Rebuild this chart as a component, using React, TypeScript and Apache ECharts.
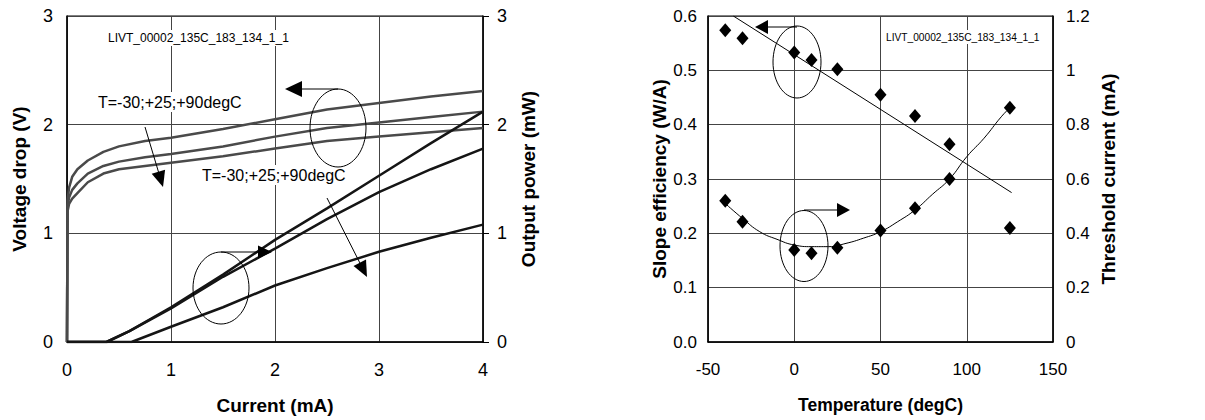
import React, { useEffect, useRef } from "react";
import * as echarts from "echarts";

// ---------- Left chart: LIV curves ----------
const voltageMinus30: number[][] = [[0,0],[0.005,1.3],[0.02,1.42],[0.05,1.52],[0.1,1.59],[0.2,1.67],[0.35,1.75],[0.5,1.8],[0.75,1.85],[1,1.88],[1.5,1.96],[2,2.05],[2.5,2.14],[3,2.2],[3.5,2.26],[4,2.31]];
const voltagePlus25: number[][] = [[0,0],[0.005,1.25],[0.02,1.33],[0.05,1.4],[0.1,1.46],[0.2,1.55],[0.35,1.62],[0.5,1.66],[0.75,1.7],[1,1.73],[1.5,1.8],[2,1.89],[2.5,1.97],[3,2.02],[3.5,2.07],[4,2.12]];
const voltagePlus90: number[][] = [[0,0],[0.005,1.2],[0.02,1.27],[0.05,1.32],[0.1,1.37],[0.2,1.47],[0.35,1.55],[0.5,1.59],[0.75,1.62],[1,1.65],[1.5,1.71],[2,1.78],[2.5,1.85],[3,1.89],[3.5,1.93],[4,1.97]];
const powerMinus30: number[][] = [[0,0],[0.38,0],[0.6,0.1],[1,0.32],[1.5,0.62],[2,0.94],[2.5,1.23],[3,1.53],[3.5,1.83],[4,2.12]];
const powerPlus25: number[][] = [[0,0],[0.38,0],[0.6,0.1],[1,0.31],[1.5,0.6],[2,0.86],[2.5,1.13],[3,1.38],[3.5,1.59],[4,1.78]];
const powerPlus90: number[][] = [[0,0],[0.62,0],[1,0.14],[1.5,0.32],[2,0.52],[2.5,0.68],[3,0.83],[3.5,0.96],[4,1.08]];

// ---------- Right chart: temperature dependence ----------
const temperatures: number[] = [-40, -30, 0, 10, 25, 50, 70, 90, 125];
const slopeEfficiency: number[] = [0.574, 0.559, 0.533, 0.519, 0.502, 0.455, 0.416, 0.364, 0.21];
const thresholdCurrent: number[] = [0.52, 0.443, 0.339, 0.327, 0.347, 0.41, 0.492, 0.6, 0.862];
const slopeTrend: number[][] = [[-35.3, 0.6], [126, 0.275]];
const thresholdFitT: number[] = [-40, -30, -20, -10, 0, 10, 20, 30, 40, 50, 60, 70, 80, 90, 100, 110, 120, 125];
const thresholdFitV: number[] = [0.51, 0.455, 0.406, 0.378, 0.357, 0.351, 0.351, 0.363, 0.382, 0.406, 0.443, 0.486, 0.543, 0.6, 0.682, 0.75, 0.829, 0.862];

const sampleId = "LIVT_00002_135C_183_134_1_1";
const tempLabel = "T=-30;+25;+90degC";

const FONT = '"Liberation Sans", Arial, sans-serif';

function arrowHead(tip: number[], from: number[], len: number, half: number): number[][] {
  const dx = tip[0] - from[0];
  const dy = tip[1] - from[1];
  const l = Math.sqrt(dx * dx + dy * dy);
  const ux = dx / l, uy = dy / l;
  const bx = tip[0] - ux * len, by = tip[1] - uy * len;
  return [tip, [bx + uy * half, by - ux * half], [bx - uy * half, by + ux * half]];
}

function arrow(from: number[], tip: number[], len: number, half: number): any[] {
  const dx = tip[0] - from[0];
  const dy = tip[1] - from[1];
  const l = Math.sqrt(dx * dx + dy * dy);
  const end = [tip[0] - (dx / l) * (len - 1), tip[1] - (dy / l) * (len - 1)];
  return [
    { type: "line", z: 100, shape: { x1: from[0], y1: from[1], x2: end[0], y2: end[1] }, style: { stroke: "#000", lineWidth: 1 } },
    { type: "polygon", z: 100, shape: { points: arrowHead(tip, from, len, half) }, style: { fill: "#000" } },
  ];
}

function ellipse(cx: number, cy: number, rx: number, ry: number): any {
  return { type: "ellipse", z: 100, shape: { cx, cy, rx, ry }, style: { fill: "none", stroke: "#000", lineWidth: 1 } };
}

function label(text: string, x: number, y: number, size: number): any {
  return {
    type: "text",
    z: 99,
    x,
    y,
    style: {
      text,
      font: `${size}px ${FONT}`,
      fill: "#000",
      verticalAlign: "middle",
      backgroundColor: "#fff",
      padding: [2, 2],
    },
  };
}

export default function App() {
  const ref = useRef<HTMLDivElement>(null);

  useEffect(() => {
    if (!ref.current) return;
    const chart = echarts.init(ref.current, undefined, { renderer: "svg" });

    const grid0 = { left: 67, top: 16, width: 416, height: 326 };
    const grid1 = { left: 708, top: 16, width: 345, height: 326 };
    const gridLine = { show: true, lineStyle: { color: "#444", width: 1 } };
    const axisLine = { show: true, onZero: false, lineStyle: { color: "#000", width: 1.5 } };
    const tickLabel = (size: number) => ({ color: "#000", fontSize: size, fontFamily: FONT });
    const nameStyle = (size: number) => ({ color: "#000", fontSize: size, fontWeight: "bold" as const, fontFamily: FONT });

    const vLine = (data: number[][]) => ({
      type: "line", xAxisIndex: 0, yAxisIndex: 0, data, showSymbol: false, symbol: "none",
      lineStyle: { color: "#4a4a4a", width: 2.5 }, z: 3,
    });
    const pLine = (data: number[][]) => ({
      type: "line", xAxisIndex: 0, yAxisIndex: 1, data, showSymbol: false, symbol: "none",
      lineStyle: { color: "#151515", width: 2.5 }, z: 4,
    });

    const option: any = {
      animation: false,
      backgroundColor: "#fff",
      grid: [
        { ...grid0, show: true, borderColor: "#000", borderWidth: 1, containLabel: false },
        { ...grid1, show: true, borderColor: "#000", borderWidth: 1, containLabel: false },
      ],
      xAxis: [
        {
          type: "value", gridIndex: 0, min: 0, max: 4, interval: 1,
          axisLine, axisTick: { show: false }, splitLine: gridLine,
          axisLabel: { ...tickLabel(18), margin: 19 },
          name: "Current (mA)", nameLocation: "middle", nameGap: 54, nameTextStyle: nameStyle(19),
        },
        {
          type: "value", gridIndex: 1, min: -50, max: 150, interval: 50,
          axisLine, axisTick: { show: false }, splitLine: gridLine,
          axisLabel: { ...tickLabel(17), margin: 19 },
          name: "Temperature (degC)", nameLocation: "middle", nameGap: 54, nameTextStyle: nameStyle(17.5),
        },
      ],
      yAxis: [
        {
          type: "value", gridIndex: 0, min: 0, max: 3, interval: 1, position: "left",
          axisLine, axisTick: { show: false }, splitLine: gridLine,
          axisLabel: { ...tickLabel(18), margin: 14 },
          name: "Voltage drop (V)", nameLocation: "middle", nameGap: 38, nameTextStyle: nameStyle(19),
        },
        {
          type: "value", gridIndex: 0, min: 0, max: 3, interval: 1, position: "right",
          axisLine, axisTick: { show: true, inside: false, length: 6, lineStyle: { color: "#000" } }, splitLine: { show: false },
          axisLabel: { ...tickLabel(18), margin: 14 },
          name: "Output power (mW)", nameLocation: "middle", nameGap: 36, nameTextStyle: nameStyle(19),
        },
        {
          type: "value", gridIndex: 1, min: 0, max: 0.6, interval: 0.1, position: "left",
          axisLine, axisTick: { show: false }, splitLine: gridLine,
          axisLabel: { ...tickLabel(17), margin: 11, formatter: (v: number) => v.toFixed(1) },
          name: "Slope efficiency (W/A)", nameLocation: "middle", nameGap: 39, nameTextStyle: nameStyle(19),
        },
        {
          type: "value", gridIndex: 1, min: 0, max: 1.2, interval: 0.2, position: "right",
          axisLine, axisTick: { show: false }, splitLine: { show: false },
          axisLabel: { ...tickLabel(17), margin: 13, formatter: (v: number) => String(Math.round(v * 10) / 10) },
          name: "Threshold current (mA)", nameLocation: "middle", nameGap: 46, nameTextStyle: nameStyle(19),
        },
      ],
      series: [
        vLine(voltageMinus30),
        vLine(voltagePlus25),
        vLine(voltagePlus90),
        pLine(powerMinus30),
        pLine(powerPlus25),
        pLine(powerPlus90),
        {
          type: "line", xAxisIndex: 1, yAxisIndex: 2, data: slopeTrend, symbol: "none",
          lineStyle: { color: "#000", width: 1 }, z: 3,
        },
        {
          type: "line", xAxisIndex: 1, yAxisIndex: 3, smooth: true, symbol: "none",
          data: thresholdFitT.map((t, i) => [t, thresholdFitV[i]]),
          lineStyle: { color: "#000", width: 1 }, z: 3,
        },
        {
          type: "scatter", xAxisIndex: 1, yAxisIndex: 2, symbol: "diamond", symbolSize: [12, 14],
          data: temperatures.map((t, i) => [t, slopeEfficiency[i]]),
          itemStyle: { color: "#000", opacity: 1 }, z: 5,
        },
        {
          type: "scatter", xAxisIndex: 1, yAxisIndex: 3, symbol: "diamond", symbolSize: [12, 14],
          data: temperatures.map((t, i) => [t, thresholdCurrent[i]]),
          itemStyle: { color: "#000", opacity: 1 }, z: 5,
        },
      ],
      graphic: [
        label(sampleId, 106, 38, 12),
        label(tempLabel, 96, 102, 16),
        label(tempLabel, 200, 175, 16),
        ...arrow([145, 127], [163, 187], 16, 7),
        ...arrow([327, 198], [367, 277], 16, 7),
        ellipse(338, 128, 28, 39),
        ...arrow([338, 89], [285, 89], 17, 8),
        ellipse(221, 288, 28, 36),
        ...arrow([221, 252], [272, 252], 14, 6.5),
        label(sampleId, 884, 37, 10.2),
        ellipse(797, 62, 24, 36),
        ...arrow([797, 27], [755, 27], 13, 7),
        ellipse(804, 246, 24, 35.5),
        ...arrow([804, 210], [850, 210], 13, 7),
      ],
    };

    chart.setOption(option);
    return () => chart.dispose();
  }, []);

  return <div ref={ref} style={{ position: "absolute", left: 0, top: 0, width: 1205, height: 420 }} />;
}
